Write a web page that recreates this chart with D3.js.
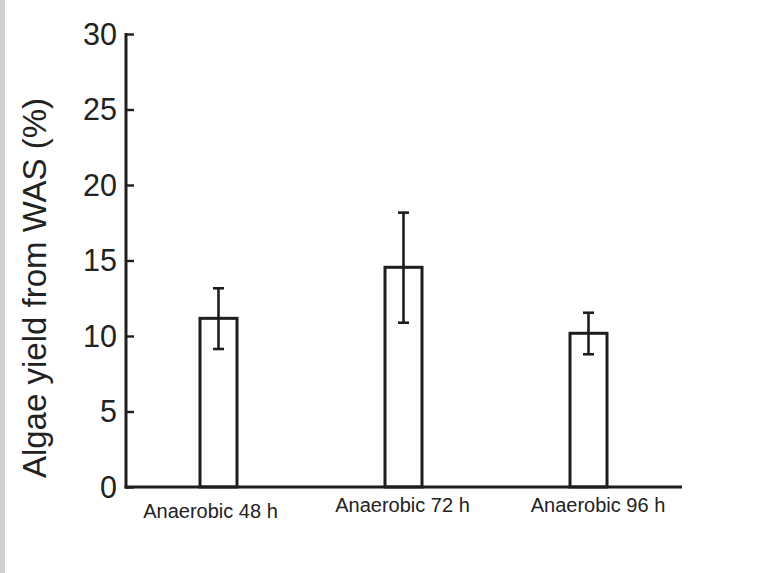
<!DOCTYPE html>
<html>
    <head>
        <meta charset="utf-8">
        <title>Algae yield from WAS</title>
        <script src="https://d3js.org/d3.v7.min.js"></script>
        <style>
            body { margin: 0; background: #fff; }
            svg { display: block; }
        </style>
    </head>
    <body>
        <script>
            var w = 765;
            var h = 573;

            // data
            var categories = ["Anaerobic 48 h", "Anaerobic 72 h", "Anaerobic 96 h"];
            var yieldMean = [11.17, 14.55, 10.18];
            var errLow = [9.14, 10.88, 8.79];
            var errHigh = [13.16, 18.17, 11.54];
            var yTicks = [0, 5, 10, 15, 20, 25, 30];
            // the category labels sit a little off the bar centres in the original
            var labelDx = [-8, -1, 9.5];
            var labelDy = [6, -0.5, -0.5];

            var svg = d3.select("body").append("svg")
                .attr("width", w)
                .attr("height", h);

            // grey strip on the left edge
            svg.append("rect")
                .attr("x", 0).attr("y", 0)
                .attr("width", 5).attr("height", h)
                .attr("fill", "#cfcfcf");

            var x = d3.scaleBand()
                .domain(categories)
                .range([126, 681])
                .paddingInner(0.8)
                .paddingOuter(0.4);

            var y = d3.scaleLinear()
                .domain([0, 30])
                .range([487, 34]);

            var ink = "#1e1e1e";

            // bars
            svg.selectAll("rect.bar")
                .data(categories)
                .enter()
                .append("rect")
                .attr("class", "bar")
                .attr("x", function(d) { return x(d); })
                .attr("y", function(d, i) { return y(yieldMean[i]); })
                .attr("width", x.bandwidth())
                .attr("height", function(d, i) { return y(0) - y(yieldMean[i]); })
                .attr("fill", "#fff")
                .attr("stroke", ink)
                .attr("stroke-width", 3);

            // error bars
            var eb = svg.selectAll("g.err")
                .data(categories)
                .enter()
                .append("g")
                .attr("class", "err")
                .attr("stroke", ink)
                .attr("stroke-width", 2.6);

            eb.append("line")
                .attr("x1", function(d) { return x(d) + x.bandwidth() / 2; })
                .attr("x2", function(d) { return x(d) + x.bandwidth() / 2; })
                .attr("y1", function(d, i) { return y(errLow[i]); })
                .attr("y2", function(d, i) { return y(errHigh[i]); });

            eb.append("line")
                .attr("x1", function(d) { return x(d) + x.bandwidth() / 2 - 5.5; })
                .attr("x2", function(d) { return x(d) + x.bandwidth() / 2 + 5.5; })
                .attr("y1", function(d, i) { return y(errHigh[i]); })
                .attr("y2", function(d, i) { return y(errHigh[i]); });

            eb.append("line")
                .attr("x1", function(d) { return x(d) + x.bandwidth() / 2 - 5.5; })
                .attr("x2", function(d) { return x(d) + x.bandwidth() / 2 + 5.5; })
                .attr("y1", function(d, i) { return y(errLow[i]); })
                .attr("y2", function(d, i) { return y(errLow[i]); });

            // y axis: ticks point inward
            var yAxis = d3.axisRight(y)
                .tickValues(yTicks)
                .tickSize(8)
                .tickFormat("");

            var gy = svg.append("g")
                .attr("transform", "translate(126,0)")
                .call(yAxis);
            gy.select(".domain").remove();
            gy.selectAll(".tick line")
                .attr("stroke", ink)
                .attr("stroke-width", 2.4);

            svg.append("line")
                .attr("x1", 126).attr("x2", 126)
                .attr("y1", y(30) - 1).attr("y2", y(0) + 1.5)
                .attr("stroke", ink)
                .attr("stroke-width", 3);

            // tick labels
            svg.selectAll("text.ytick")
                .data(yTicks)
                .enter()
                .append("text")
                .attr("class", "ytick")
                .attr("x", 117)
                .attr("y", function(d) { return y(d); })
                .attr("dy", "0.36em")
                .attr("text-anchor", "end")
                .attr("font-family", "Liberation Sans, Arial, sans-serif")
                .attr("font-size", 30.5)
                .attr("fill", "#222")
                .text(function(d) { return d; });

            // x axis baseline
            svg.append("line")
                .attr("x1", 124.5).attr("x2", 682)
                .attr("y1", y(0)).attr("y2", y(0))
                .attr("stroke", ink)
                .attr("stroke-width", 3);

            // category labels
            svg.selectAll("text.xlab")
                .data(categories)
                .enter()
                .append("text")
                .attr("class", "xlab")
                .attr("x", function(d, i) { return x(d) + x.bandwidth() / 2 + labelDx[i]; })
                .attr("y", function(d, i) { return 512 + labelDy[i]; })
                .attr("text-anchor", "middle")
                .attr("font-family", "Liberation Sans, Arial, sans-serif")
                .attr("font-size", 20)
                .attr("fill", "#222")
                .text(function(d) { return d; });

            // y title
            svg.append("text")
                .attr("transform", "translate(46,288) rotate(-90)")
                .attr("text-anchor", "middle")
                .attr("font-family", "Liberation Sans, Arial, sans-serif")
                .attr("font-size", 33)
                .attr("fill", "#222")
                .text("Algae yield from WAS (%)");
        </script>
    </body>
</html>
